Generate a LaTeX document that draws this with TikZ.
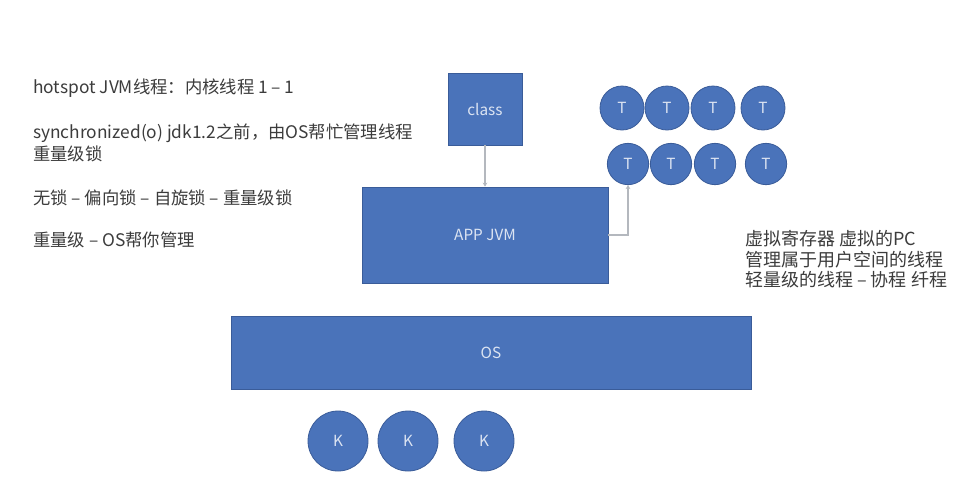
\documentclass[tikz,border=0pt]{standalone}
\usepackage{fontspec}
\setmainfont{Noto Sans CJK SC}
\usetikzlibrary{arrows.meta}
\definecolor{boxblue}{HTML}{4A73BA}
\definecolor{boxline}{HTML}{3A5C99}
\definecolor{boxtext}{HTML}{DCE4F2}
\definecolor{conngray}{HTML}{B4B8BE}
\definecolor{notegray}{HTML}{3C3C3C}

\begin{document}
\begin{tikzpicture}[x=0.75pt,y=-0.75pt,
  box/.style={draw=boxline,line width=0.6pt,fill=boxblue,text=boxtext,font=\fontsize{11.5}{13}\selectfont},
  ball/.style={circle,draw=boxline,line width=0.6pt,fill=boxblue,text=boxtext,inner sep=0pt,font=\fontsize{11.5}{13}\selectfont},
  conn/.style={draw=conngray,line width=1pt,-{Stealth[length=3pt,width=3.5pt]}},
  note/.style={anchor=west,inner sep=0pt,text=notegray,align=left,font=\fontsize{13}{17}\selectfont}]
\useasboundingbox (0,0) rectangle (970,494);
\fill[white] (0,0) rectangle (970,494);
% left notes
\node[note] (note1) at (33,88) {hotspot JVM线程：内核线程 1 -- 1};
\node[note] (note2) at (33,143) {synchronized(o) jdk1.2之前，由OS帮忙管理线程\\重量级锁};
\node[note] (note3) at (33,198) {无锁 -- 偏向锁 -- 自旋锁 -- 重量级锁};
\node[note] (note4) at (33,240) {重量级 -- OS帮你管理};
% right note
\node[note,anchor=north west,font=\fontsize{13.5}{15.4}\selectfont] (note5) at (745,230)
  {虚拟寄存器 虚拟的PC\\管理属于用户空间的线程\\轻量级的线程 -- 协程 纤程};
% boxes
\node[box,minimum width=55.5pt,minimum height=54pt] (class) at (485,109) {class};
\node[box,minimum width=184.5pt,minimum height=72pt] (app) at (485,235) {APP JVM};
\node[box,minimum width=390pt,minimum height=54.75pt] (os) at (491,352.5) {OS};
% user threads
\foreach \x [count=\i] in {622,667,713,763}
  \node[ball,minimum size=33pt] (t1\i) at (\x,108) {T};
\foreach \x [count=\i] in {628,671,715,766}
  \node[ball,minimum size=31pt] (t2\i) at (\x,164) {T};
% kernel threads
\foreach \x [count=\i] in {338,408,484}
  \node[ball,minimum size=45pt] (k\i) at (\x,441) {K};
% connectors
\draw[conn] (class) -- (app);
\draw[conn] (app.east) -| (t21.south);
\end{tikzpicture}
\end{document}
